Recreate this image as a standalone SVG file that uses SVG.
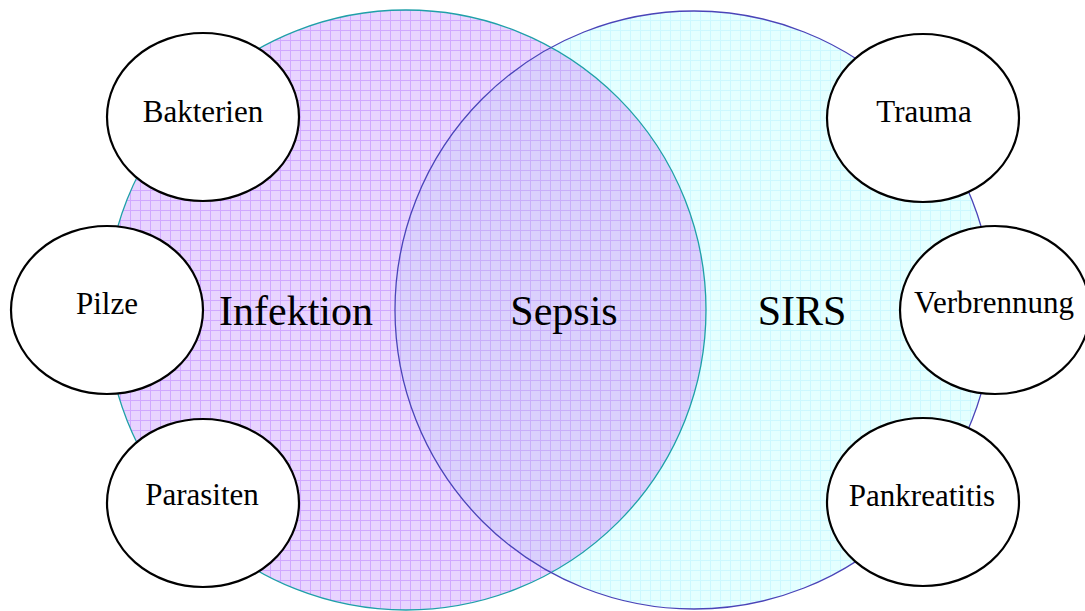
<svg xmlns="http://www.w3.org/2000/svg" width="1085" height="611" viewBox="0 0 1085 611">
<style>
.big{font-family:"Liberation Serif","Times New Roman",serif;font-size:42px;fill:#000;text-anchor:middle}
.lbl{font-family:"Liberation Serif","Times New Roman",serif;font-size:31px;fill:#000;text-anchor:middle}
.node{fill:#fff;stroke:#000;stroke-width:2.2}
</style>
<defs>
<pattern id="pPurple" width="10" height="10" patternUnits="userSpaceOnUse">
<rect width="10" height="10" fill="#e8d4ff"/>
<path d="M0 0.5H10M0.5 0V10" stroke="#d0a8ff" stroke-width="1"/>
</pattern>
<pattern id="pCyan" width="10" height="10" patternUnits="userSpaceOnUse">
<rect width="10" height="10" fill="#e4ffff"/>
<path d="M0 0.5H10M0.5 0V10" stroke="#ccf8ff" stroke-width="1"/>
</pattern>
<pattern id="pMix" width="10" height="10" patternUnits="userSpaceOnUse">
<rect width="10" height="10" fill="#dad0fd"/>
<path d="M0 0.5H10M0.5 0V10" stroke="#c8aefa" stroke-width="1"/>
</pattern>
<clipPath id="clipLeft"><circle cx="406" cy="310" r="300"/></clipPath>
</defs>
<g id="sets">
<circle id="infektion-set" cx="406" cy="310" r="300" fill="url(#pPurple)"/>
<circle id="sirs-set" cx="694" cy="310" r="299" fill="url(#pCyan)"/>
<circle id="sepsis-overlap" cx="694" cy="310" r="299" fill="url(#pMix)" clip-path="url(#clipLeft)"/>
<circle cx="406" cy="310" r="300" fill="none" stroke="#1fa0a8" stroke-width="1.3"/>
<circle cx="694" cy="310" r="299" fill="none" stroke="#4a44b8" stroke-width="1.3"/>
<text class="big" x="296" y="325">Infektion</text>
<text class="big" x="564" y="325">Sepsis</text>
<text class="big" x="802" y="325">SIRS</text>
</g>
<g id="connectors"></g>
<g id="bakterien"><ellipse class="node" cx="203" cy="117" rx="96" ry="84"/><text class="lbl" x="203" y="122">Bakterien</text></g>
<g id="pilze"><ellipse class="node" cx="107" cy="310" rx="96" ry="84"/><text class="lbl" x="107" y="314">Pilze</text></g>
<g id="parasiten"><ellipse class="node" cx="203" cy="503" rx="96" ry="84"/><text class="lbl" x="202" y="505">Parasiten</text></g>
<g id="trauma"><ellipse class="node" cx="923" cy="118" rx="96" ry="84"/><text class="lbl" x="924" y="122">Trauma</text></g>
<g id="verbrennung"><ellipse class="node" cx="995" cy="310" rx="95" ry="84"/><text class="lbl" x="994" y="313">Verbrennung</text></g>
<g id="pankreatitis"><ellipse class="node" cx="923" cy="502" rx="96" ry="84"/><text class="lbl" x="922" y="506">Pankreatitis</text></g>
</svg>
